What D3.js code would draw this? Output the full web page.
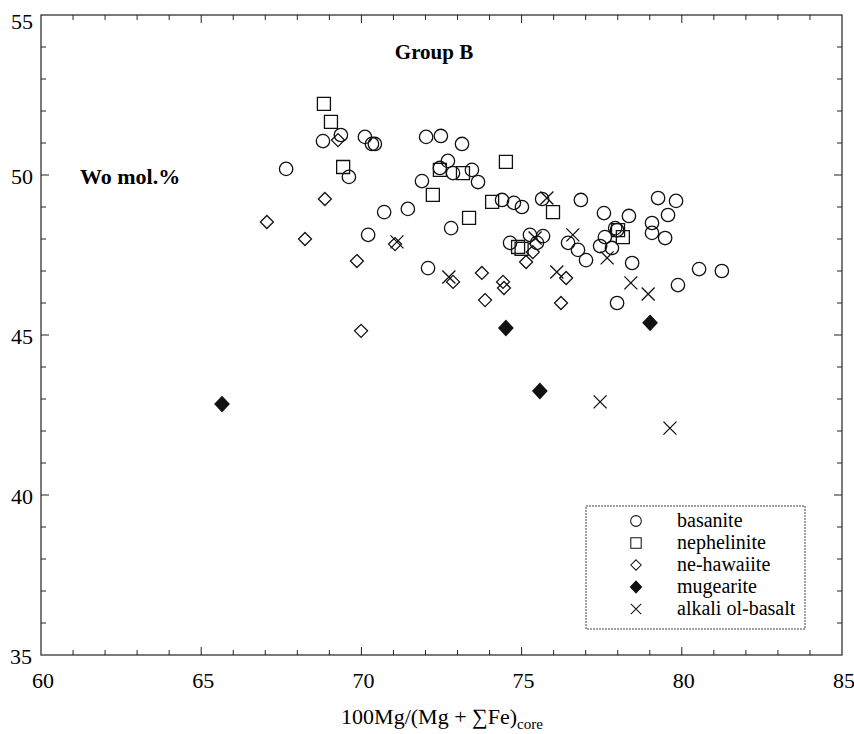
<!DOCTYPE html>
<html>
<head>
<meta charset="utf-8">
<script src="https://cdn.jsdelivr.net/npm/d3@7"></script>
<style>
  body { margin: 0; background: #fff; }
  svg { display: block; font-family: "Liberation Serif", "DejaVu Serif", serif; }
  .frame { fill: none; stroke: #222; stroke-width: 1.2; }
  .tick-line { stroke: #222; stroke-width: 1; }
  .mark { fill: none; stroke: #111; stroke-width: 1.3; }
  .mark.filled { fill: #111; }
  .legend-box { fill: none; stroke: #444; stroke-width: 1; stroke-dasharray: 2,1; }
</style>
</head>
<body>
<div id="chart"></div>
<script>
// Wo mol.% vs 100Mg/(Mg+ΣFe) core, Group B
var basaniteX = [68.80, 69.36, 70.11, 70.33, 70.42, 67.65, 69.61, 71.89, 72.02, 72.48, 73.14, 72.45, 72.70,
                 72.86, 73.45, 73.64, 74.39, 74.76, 75.01, 75.64, 76.85, 77.57, 70.71, 71.45, 70.21, 72.08,
                 72.80, 75.26, 75.67, 75.48, 74.64, 76.45, 76.76, 77.01, 77.45, 77.60, 77.82, 77.92, 77.98,
                 79.26, 79.82, 78.35, 79.57, 79.07, 79.07, 79.48, 78.45, 77.98, 79.88, 80.54, 81.25];
var basaniteY = [51.06, 51.25, 51.19, 50.97, 50.97, 50.19, 49.94, 49.81, 51.19, 51.22, 50.97, 50.22, 50.44,
                 50.06, 50.16, 49.78, 49.22, 49.13, 49.00, 49.25, 49.22, 48.81, 48.84, 48.94, 48.13, 47.09,
                 48.34, 48.13, 48.09, 47.88, 47.88, 47.88, 47.66, 47.34, 47.78, 48.06, 47.72, 48.34, 48.28,
                 49.28, 49.19, 48.72, 48.75, 48.50, 48.19, 48.03, 47.25, 46.00, 46.56, 47.06, 47.00];

var nephelX = [68.83, 69.05, 69.43, 72.45, 73.17, 74.51, 72.23, 74.08, 75.98, 73.36, 74.89, 75.00, 78.01, 78.16];
var nephelY = [52.22, 51.66, 50.25, 50.16, 50.06, 50.41, 49.38, 49.16, 48.84, 48.66, 47.75, 47.69, 48.28, 48.06];

var hawaiiteX = [69.27, 68.86, 67.05, 68.24, 71.05, 69.86, 72.86, 73.76, 73.86, 74.42, 74.45, 75.14, 75.35,
                 76.39, 76.23, 69.99];
var hawaiiteY = [51.09, 49.25, 48.53, 48.00, 47.84, 47.31, 46.66, 46.94, 46.09, 46.66, 46.47, 47.28, 47.59,
                 46.78, 46.00, 45.13];

var mugeariteX = [65.65, 74.51, 75.57, 79.01];
var mugeariteY = [42.84, 45.22, 43.25, 45.38];

var alkaliX = [71.11, 72.73, 75.79, 75.42, 76.60, 76.10, 77.67, 78.41, 78.95, 77.45, 79.63];
var alkaliY = [47.91, 46.81, 49.28, 48.03, 48.13, 46.97, 47.41, 46.63, 46.28, 42.91, 42.09];

var seriesNames = ["basanite", "nephelinite", "ne-hawaiite", "mugearite", "alkali ol-basalt"];
var xTicks = [60, 65, 70, 75, 80, 85];
var yTicks = [35, 40, 45, 50, 55];

var W = 854, H = 734;
var x = d3.scaleLinear().domain([60, 85]).range([41, 842]);
var y = d3.scaleLinear().domain([35, 55]).range([655, 15]);

var svg = d3.select("#chart").append("svg")
    .attr("width", W)
    .attr("height", H);

// symbol path generators, centred on 0,0
function symPath(kind) {
  switch (kind) {
    case "circle": return "M6.7,0A6.7,6.7 0 1,1 -6.7,0A6.7,6.7 0 1,1 6.7,0Z";
    case "square": return "M-6.5,-6.5H6.5V6.5H-6.5Z";
    case "diamond": return "M0,-6.5L6.5,0L0,6.5L-6.5,0Z";
    case "fdiamond": return "M0,-7.5L7,0L0,7.5L-7,0Z";
    case "cross": return "M-6.5,-6.5L6.5,6.5M6.5,-6.5L-6.5,6.5";
  }
}

var series = [
  {name: seriesNames[0], kind: "circle", xs: basaniteX, ys: basaniteY},
  {name: seriesNames[1], kind: "square", xs: nephelX, ys: nephelY},
  {name: seriesNames[2], kind: "diamond", xs: hawaiiteX, ys: hawaiiteY},
  {name: seriesNames[3], kind: "fdiamond", xs: mugeariteX, ys: mugeariteY},
  {name: seriesNames[4], kind: "cross", xs: alkaliX, ys: alkaliY}
];

// frame
svg.append("rect")
  .attr("class", "frame")
  .attr("x", x(60)).attr("y", y(55))
  .attr("width", x(85) - x(60))
  .attr("height", y(35) - y(55));

// ticks on all four sides, pointing inward
var minorX = d3.range(61, 85), minorY = d3.range(36, 55);
function tickLen(v) { return v % 5 === 0 ? 8 : 5; }

var g = svg.append("g");
minorX.forEach(function(v) {
  g.append("line").attr("class", "tick-line")
    .attr("x1", x(v)).attr("x2", x(v))
    .attr("y1", y(35)).attr("y2", y(35) - tickLen(v));
  g.append("line").attr("class", "tick-line")
    .attr("x1", x(v)).attr("x2", x(v))
    .attr("y1", y(55)).attr("y2", y(55) + tickLen(v));
});
minorY.forEach(function(v) {
  g.append("line").attr("class", "tick-line")
    .attr("x1", x(60)).attr("x2", x(60) + tickLen(v))
    .attr("y1", y(v)).attr("y2", y(v));
  g.append("line").attr("class", "tick-line")
    .attr("x1", x(85)).attr("x2", x(85) - tickLen(v))
    .attr("y1", y(v)).attr("y2", y(v));
});

// tick labels
svg.selectAll(".xlab")
  .data(xTicks)
  .enter().append("text")
    .attr("class", "xlab")
    .attr("x", function(d) { return x(d) + 2; })
    .attr("y", y(35) + 33)
    .attr("text-anchor", "middle")
    .attr("font-size", 22)
    .text(function(d) { return d; });

svg.selectAll(".ylab")
  .data(yTicks)
  .enter().append("text")
    .attr("class", "ylab")
    .attr("x", function(d) { return d === 35 ? 32 : 33; })
    .attr("y", function(d) { return d === 55 ? y(d) + 14 : y(d) + 9; })
    .attr("text-anchor", "end")
    .attr("font-size", 22)
    .text(function(d) { return d; });

// axis title with subscript
var xt = svg.append("text")
  .attr("x", 442)
  .attr("y", 724)
  .attr("text-anchor", "middle")
  .attr("font-size", 22);
xt.append("tspan").text("100Mg/(Mg + \u2211Fe)");
xt.append("tspan").attr("font-size", 15).attr("dy", 5).text("core");

svg.append("text")
  .attr("x", 434).attr("y", 59)
  .attr("text-anchor", "middle")
  .attr("font-size", 21)
  .attr("font-weight", "bold")
  .text("Group B");

svg.append("text")
  .attr("x", 80).attr("y", 184)
  .attr("font-size", 22)
  .attr("font-weight", "bold")
  .text("Wo mol.%");

// data marks
series.forEach(function(s) {
  svg.append("g").selectAll("path")
    .data(d3.range(s.xs.length))
    .enter().append("path")
      .attr("class", s.kind === "fdiamond" ? "mark filled" : "mark")
      .attr("transform", function(i) { return "translate(" + x(s.xs[i]) + "," + y(s.ys[i]) + ")"; })
      .attr("d", symPath(s.kind));
});

// legend
var leg = svg.append("g");
leg.append("rect")
  .attr("class", "legend-box")
  .attr("x", 586).attr("y", 506)
  .attr("width", 219).attr("height", 123);

series.forEach(function(s, i) {
  var ly = 521 + i * 22;
  leg.append("path")
    .attr("class", s.kind === "fdiamond" ? "mark filled" : "mark")
    .attr("transform", "translate(636," + ly + ") scale(0.8)")
    .attr("d", symPath(s.kind));
  leg.append("text")
    .attr("x", 677).attr("y", ly + 6)
    .attr("font-size", 20)
    .text(s.name);
});
</script>
</body>
</html>
